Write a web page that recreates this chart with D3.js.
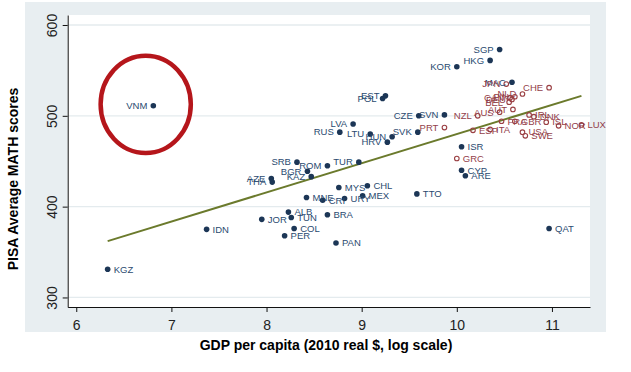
<!DOCTYPE html>
<html>
<head>
<meta charset="utf-8">
<script src="https://cdn.jsdelivr.net/npm/d3@7"></script>
<style>
  body { margin: 0; background: #fff; }
  svg { display: block; font-family: "Liberation Sans", Arial, sans-serif; }
</style>
</head>
<body>
<svg width="631" height="372"></svg>
<script>
// PISA math vs log GDP per capita
// filled markers: other countries
const codesA = ["SGP","HKG","KOR","MAC","EST","POL","VNM","SVN","CZE","LVA","RUS","SVK","LTU","HUN","HRV","ISR",
  "SRB","TUR","ROM","BGR","KAZ","AZE","THA","CYP","ARE","MYS","CHL","MEX","URY","CRI","MNE","TTO",
  "ALB","TUN","BRA","JOR","COL","PER","IDN","PAN","QAT","KGZ"];
const gdpA = [10.45,10.35,10.00,10.58,9.25,9.22,6.81,9.87,9.60,8.91,8.77,9.59,9.09,9.32,9.27,10.05,
  8.32,8.97,8.64,8.43,8.47,8.05,8.06,10.05,10.09,8.76,9.06,9.01,8.82,8.59,8.42,9.58,
  8.23,8.26,8.64,7.95,8.29,8.19,7.37,8.73,10.97,6.33];
const mathA = [573,561,554,537,522,519,511,501,500,491,482,482,480,477,471,466,
  449,449,445,439,433,431,427,440,434,421,423,412,409,407,410,414,
  394,388,391,386,376,368,375,360,376,331];

// hollow markers: high-income OECD
const codesB = ["JPN","CHE","NLD","CAN","FIN","DEU","BEL","AUT","AUS","NZL","IRL","DNK","FRA","GBR",
  "ISL","NOR","LUX","USA","SWE","ESP","ITA","PRT","GRC"];
const gdpB = [10.52,10.97,10.69,10.56,10.61,10.58,10.55,10.59,10.45,10.22,10.76,10.81,10.47,10.61,
  10.94,11.07,11.31,10.69,10.72,10.17,10.35,9.87,10.00];
const mathB = [535,531,524,520,521,518,515,507,504,500,501,499,494,494,
  493,489,490,482,478,484,485,487,453];

// linear fit endpoints
const fitX = [6.33, 11.31];
const fitY = [362, 522];

// circle drawn around Vietnam (centre x, centre y, radius in x units, radius in score units)
const ringCenter = [6.73, 512.6];
const ringRadius = [0.474, 53.6];

const yTicks = [300, 400, 500, 600];
const xTicks = [6, 7, 8, 9, 10, 11];

const svg = d3.select("svg");

const x = d3.scaleLinear().domain([5.91, 11.4]).range([67.7, 590]);
const y = d3.scaleLinear().domain([289.5, 611]).range([307, 15]);

// graph region + plot region
svg.append("rect")
  .attr("x", 25).attr("y", 2)
  .attr("width", 581).attr("height", 330)
  .attr("fill", "#e8eef1");
svg.append("rect")
  .attr("x", 67.7).attr("y", 15)
  .attr("width", 590 - 67.7).attr("height", 307 - 15)
  .attr("fill", "#fff");

// grid
svg.append("g")
  .selectAll("line")
  .data(yTicks)
  .enter().append("line")
    .attr("x1", 67.7).attr("x2", 590)
    .attr("y1", d => y(d)).attr("y2", d => y(d))
    .attr("stroke", "#e4ebee")
    .attr("stroke-width", 1.3);

// axes
const yAxis = svg.append("g")
  .attr("transform", "translate(67.7,0)")
  .call(d3.axisLeft(y).tickValues(yTicks).tickSize(5).tickSizeOuter(0).tickFormat(d3.format("d")));
yAxis.selectAll("text")
  .attr("transform", "rotate(-90)")
  .attr("x", 0)
  .attr("y", -11)
  .attr("dy", 0)
  .attr("text-anchor", "middle")
  .style("font-size", "14px")
  .style("fill", "#222");

const xAxis = svg.append("g")
  .attr("transform", "translate(0,307)")
  .call(d3.axisBottom(x).tickValues(xTicks).tickSize(5).tickSizeOuter(0).tickPadding(8.5).tickFormat(d3.format("d")));
xAxis.selectAll("text")
  .style("font-size", "14px")
  .style("fill", "#222");

svg.selectAll(".domain, .tick line").attr("stroke", "#111");

// titles
svg.append("text")
  .attr("x", 326).attr("y", 350)
  .attr("text-anchor", "middle")
  .style("font-size", "14px")
  .style("font-weight", "bold")
  .text("GDP per capita (2010 real $, log scale)");

svg.append("text")
  .attr("transform", "translate(18,179) rotate(-90)")
  .attr("text-anchor", "middle")
  .style("font-size", "14px")
  .style("font-weight", "bold")
  .text("PISA Average MATH scores");

// fit line
const fit = d3.scaleLinear().domain(fitX).range(fitY);
svg.append("line")
  .attr("x1", x(fitX[0])).attr("y1", y(fitY[0]))
  .attr("x2", x(fitX[1])).attr("y2", y(fitY[1]))
  .attr("stroke", "#6b7a2c")
  .attr("stroke-width", 2);

const dataA = codesA.map((c, i) => ({code: c, gdp: gdpA[i], math: mathA[i]}));
const dataB = codesB.map((c, i) => ({code: c, gdp: gdpB[i], math: mathB[i]}));

// labels sit left of points above the fit line, right of points below it
function addLabels(data, color) {
  svg.append("g")
    .selectAll("text")
    .data(data)
    .enter().append("text")
      .attr("x", d => d.math > fit(d.gdp) ? x(d.gdp) - 6 : x(d.gdp) + 6)
      .attr("y", d => y(d.math))
      .attr("dy", "0.35em")
      .attr("text-anchor", d => d.math > fit(d.gdp) ? "end" : "start")
      .style("font-size", "9.5px")
      .style("fill", color)
      .text(d => d.code);
}

svg.append("g")
  .selectAll("circle")
  .data(dataB)
  .enter().append("circle")
    .attr("cx", d => x(d.gdp))
    .attr("cy", d => y(d.math))
    .attr("r", 2.3)
    .attr("fill", "none")
    .attr("stroke", "#9a3f43")
    .attr("stroke-width", 1.1);

svg.append("g")
  .selectAll("circle")
  .data(dataA)
  .enter().append("circle")
    .attr("cx", d => x(d.gdp))
    .attr("cy", d => y(d.math))
    .attr("r", 2.8)
    .attr("fill", "#1c3656");

addLabels(dataA, "#2a4a70");
addLabels(dataB, "#93404a");

// red ring around VNM
svg.append("ellipse")
  .attr("cx", x(ringCenter[0]))
  .attr("cy", y(ringCenter[1]))
  .attr("rx", x(ringCenter[0] + ringRadius[0]) - x(ringCenter[0]))
  .attr("ry", y(ringCenter[1] - ringRadius[1]) - y(ringCenter[1]))
  .attr("fill", "none")
  .attr("stroke", "#b5161b")
  .attr("stroke-width", 4.5);
</script>
</body>
</html>
